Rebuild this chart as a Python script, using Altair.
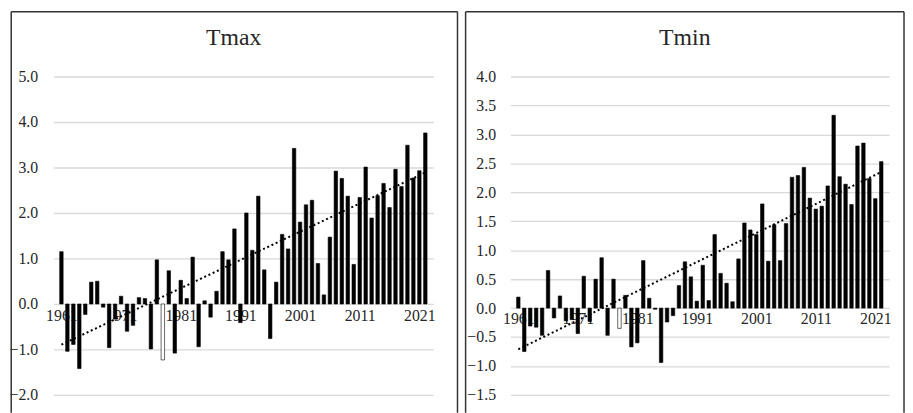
import altair as alt
import pandas as pd

years = list(range(1961, 2023))

tmax = [1.15, -1.04, -0.89, -1.42, -0.23, 0.48, 0.50, -0.07, -0.96, -0.33,
        0.17, -0.60, -0.47, 0.14, 0.12, -0.99, 0.97, -1.23, 0.73, -1.08,
        0.52, 0.12, 1.03, -0.94, 0.07, -0.29, 0.28, 1.15, 0.97, 1.65,
        -0.41, 2.00, 1.18, 2.37, 0.75, -0.76, 0.48, 1.53, 1.21, 3.42,
        1.80, 2.18, 2.28, 0.89, 0.20, 1.47, 2.92, 2.76, 2.37, 0.87,
        2.34, 3.01, 1.89, 2.38, 2.65, 2.12, 2.96, 2.58, 3.49, 2.77,
        2.93, 3.76]

tmin = [0.19, -0.75, -0.31, -0.33, -0.47, 0.65, -0.17, 0.21, -0.22, -0.20,
        -0.44, 0.55, -0.23, 0.50, 0.87, -0.47, 0.50, -0.35, 0.22, -0.67,
        -0.60, 0.82, 0.17, -0.02, -0.94, -0.24, -0.13, 0.39, 0.80, 0.54,
        0.12, 0.74, 0.13, 1.27, 0.60, 0.43, 0.11, 0.85, 1.47, 1.35,
        1.27, 1.80, 0.81, 1.44, 0.82, 1.46, 2.26, 2.29, 2.43, 1.90,
        1.71, 1.76, 2.11, 3.33, 2.27, 2.14, 1.79, 2.80, 2.85, 2.24,
        1.89, 2.53]

tick_years = [1961, 1971, 1981, 1991, 2001, 2011, 2021]
tmax_ticks = [-2, -1, 0, 1, 2, 3, 4, 5]
tmin_ticks = [-1.5, -1.0, -0.5, 0.0, 0.5, 1.0, 1.5, 2.0, 2.5, 3.0, 3.5, 4.0]

FONT = "Liberation Serif"
TXT = "#262626"
FRAME = "#333333"


def panel(name, values, ticks, ydom, width, height, xlab_pad, ylab_pad,
          fl, fr, ft, fb):
    df = pd.DataFrame({"year": years, "value": values})
    zero_from_bottom = height * (0 - ydom[0]) / (ydom[1] - ydom[0])
    x = alt.X(
        "year:Q",
        scale=alt.Scale(domain=[1960.5, 2022.5], nice=False, zero=False),
        axis=alt.Axis(values=tick_years, format="d", title=None, grid=False,
                      ticks=False, domain=False, labelFlush=False,
                      labelOverlap=False, tickCount=len(tick_years) + 2,
                      labelPadding=xlab_pad, offset=-zero_from_bottom),
    )
    y = alt.Y(
        "value:Q",
        scale=alt.Scale(domain=ydom, nice=False, zero=False),
        axis=alt.Axis(values=ticks, format=".1f", title=None, ticks=False,
                      domain=False, labelPadding=ylab_pad, grid=True,
                      labelOverlap=False, labelFlush=False,
                      tickCount=len(ticks) + 2,
                      gridColor="#d9d9d9", gridWidth=1.3),
    )
    base = alt.Chart(df)
    bars = base.mark_bar(size=3.5, stroke="black", strokeWidth=0.6).encode(
        x=x,
        y=y,
        fill=alt.when(alt.datum.year == 1978)
        .then(alt.value("white"))
        .otherwise(alt.value("black")),
    )
    trend = (
        base.transform_regression("year", "value")
        .mark_line(color="black", strokeWidth=2, strokeDash=[2, 2.7])
        .encode(x="year:Q", y="value:Q")
    )
    one = alt.Data(values=[{"k": 0}])
    left = alt.Chart(one).mark_rule(color=FRAME, strokeWidth=1.5).encode(
        x=alt.value(fl), y=alt.value(ft), y2=alt.value(fb))
    right = alt.Chart(one).mark_rule(color=FRAME, strokeWidth=1.5).encode(
        x=alt.value(fr), y=alt.value(ft), y2=alt.value(fb))
    top = alt.Chart(one).mark_rule(color=FRAME, strokeWidth=1.5).encode(
        x=alt.value(fl), x2=alt.value(fr), y=alt.value(ft))
    return alt.layer(bars, trend, left, right, top).properties(
        width=width,
        height=height,
        title=alt.TitleParams(text=name, font=FONT, fontSize=24,
                              fontWeight="normal", color=TXT, anchor="middle",
                              frame="bounds", offset=-58,
                              baseline="alphabetic"),
    )


p1 = panel("Tmax", tmax, tmax_ticks, [-2, 5], 384, 322, 4, 16,
           -42.75, 408.5, -65.5, 340)
p2 = panel("Tmin", tmin, tmin_ticks, [-1.5, 4], 383, 322, 3, 15,
           -45.3, 398, -65.5, 340)

chart = (
    alt.hconcat(p1, p2, spacing=5)
    .properties(padding=0)
    .configure_view(stroke=None)
    .configure_axis(labelFont=FONT, labelFontSize=16, labelColor=TXT)
)

chart.save("out.html", embed_options={"renderer": "svg", "actions": False})
